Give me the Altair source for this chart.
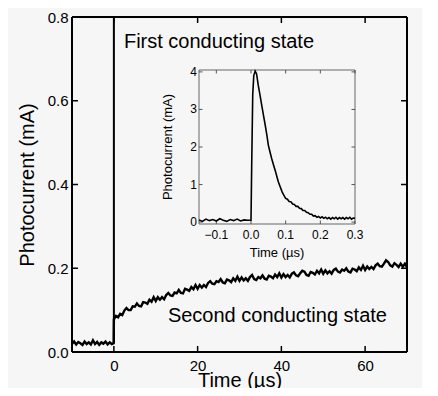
import altair as alt
import pandas as pd

FONT = "Liberation Sans"
BG = "#f6f6f6"

# ---------------- main trace (time in µs, current in mA) ----------------
pre_t = [-10.0, -9.5, -9.0, -8.5, -8.0, -7.5, -7.0, -6.5, -6.0, -5.5,
         -5.0, -4.5, -4.0, -3.5, -3.0, -2.5, -2.0, -1.5, -1.0, -0.5, -0.05]
pre_v = [0.019, 0.025, 0.018, 0.024, 0.021, 0.017, 0.025, 0.019, 0.023, 0.018,
         0.028, 0.019, 0.024, 0.017, 0.023, 0.020, 0.025, 0.018, 0.023, 0.019, 0.021]

post_t = [i * 0.5 for i in range(141)]   # 0 ... 70 µs sampling grid
post_v = [0.078, 0.086, 0.083, 0.091, 0.088, 0.099, 0.105, 0.100, 0.100, 0.109,
          0.108, 0.116, 0.110, 0.109, 0.119, 0.118, 0.115, 0.125, 0.120, 0.131,
          0.122, 0.131, 0.125, 0.131, 0.126, 0.136, 0.141, 0.135, 0.134, 0.142,
          0.140, 0.148, 0.141, 0.140, 0.151, 0.149, 0.146, 0.155, 0.150, 0.160,
          0.151, 0.160, 0.154, 0.160, 0.155, 0.165, 0.169, 0.163, 0.162, 0.169,
          0.167, 0.174, 0.166, 0.164, 0.173, 0.171, 0.167, 0.176, 0.170, 0.180,
          0.170, 0.178, 0.171, 0.176, 0.170, 0.179, 0.184, 0.174, 0.172, 0.179,
          0.176, 0.183, 0.175, 0.173, 0.182, 0.180, 0.176, 0.185, 0.179, 0.188,
          0.178, 0.186, 0.179, 0.184, 0.178, 0.187, 0.190, 0.183, 0.181, 0.188,
          0.194, 0.192, 0.184, 0.182, 0.191, 0.189, 0.185, 0.194, 0.188, 0.197,
          0.187, 0.195, 0.188, 0.193, 0.187, 0.196, 0.199, 0.192, 0.190, 0.197,
          0.194, 0.200, 0.192, 0.190, 0.199, 0.197, 0.193, 0.202, 0.196, 0.206,
          0.196, 0.204, 0.198, 0.203, 0.198, 0.207, 0.211, 0.205, 0.204, 0.211,
          0.219, 0.215, 0.207, 0.204, 0.212, 0.208, 0.203, 0.211, 0.204, 0.211,
          0.202]

# spike at t = 0: runs off the top of the main axes
spike_t = [0.0]
spike_lo = [0.021]
spike_hi = [0.8]

# ---------------- inset trace (time in µs, current in mA) ----------------
inset_t = [-0.15, -0.14, -0.13, -0.12, -0.11, -0.10, -0.09, -0.08, -0.07, -0.06,
           -0.05, -0.04, -0.03, -0.02, -0.01, 0.0, 0.002, 0.005, 0.008, 0.012,
           0.016, 0.021, 0.026, 0.031, 0.036, 0.041, 0.046, 0.050, 0.055, 0.060,
           0.065, 0.070, 0.075, 0.079, 0.085, 0.090, 0.095, 0.100, 0.105, 0.110,
           0.115, 0.120, 0.125, 0.130, 0.135, 0.140, 0.145, 0.150, 0.155, 0.160,
           0.165, 0.170, 0.175, 0.180, 0.185, 0.190, 0.195, 0.200, 0.205, 0.210,
           0.215, 0.220, 0.225, 0.230, 0.235, 0.240, 0.245, 0.250, 0.255, 0.260,
           0.265, 0.270, 0.275, 0.280, 0.285, 0.290, 0.295, 0.300]
inset_v = [0.06, 0.02, 0.08, 0.04, 0.07, 0.03, 0.09, 0.05, 0.02, 0.07,
           0.04, 0.08, 0.03, 0.06, 0.05, 0.05, 1.50, 3.40, 3.90, 4.02,
           3.95, 3.64, 3.38, 3.11, 2.84, 2.58, 2.30, 2.05, 1.86, 1.68,
           1.52, 1.37, 1.20, 1.07, 0.92, 0.80, 0.71, 0.63, 0.61, 0.55,
           0.54, 0.48, 0.47, 0.42, 0.42, 0.37, 0.36, 0.31, 0.31, 0.26,
           0.25, 0.21, 0.21, 0.16, 0.17, 0.13, 0.15, 0.11, 0.14, 0.10,
           0.13, 0.09, 0.12, 0.08, 0.12, 0.09, 0.13, 0.08, 0.12, 0.09,
           0.12, 0.08, 0.12, 0.09, 0.13, 0.08, 0.11, 0.10]

# ---------------- annotations ----------------
ann_t = [2.4, 12.9]
ann_v = [0.727, 0.072]
ann_text = ["First conducting state", "Second conducting state"]

# ---------------- ticks and tick labels ----------------
main_xticks = [0, 20, 40, 60]
main_yticks = [0.0, 0.2, 0.4, 0.6, 0.8]
inset_xticks = [-0.1, 0.0, 0.1, 0.2, 0.3]
inset_xlabels = ["\u22120.1", "0.0", "0.1", "0.2", "0.3"]
inset_yticks = [0, 1, 2, 3, 4]
inset_ylabels = ["0", "1", "2", "3", "4"]
inset_titles = ["Time (µs)", "Photocurrent (mA)"]

# ---------------- layout ----------------
W, H = 335, 335
XD, YD = [-10, 70], [0.0, 0.8]          # main axes domains
XI, YI = [-0.15, 0.3], [-0.05, 4.05]    # inset axes domains
IX0, IX1, IY0, IY1 = 127, 283, 53, 207  # inset box in plot pixels
TM, TI = 6, 3.5                         # tick lengths (px)


def px2x(p):  # plot pixel -> main x units
    return XD[0] + p / W * (XD[1] - XD[0])


def px2y(p):  # plot pixel (from top) -> main y units
    return YD[0] + (H - p) / H * (YD[1] - YD[0])


IXA, IXB, IYA, IYB = px2x(IX0), px2x(IX1), px2y(IY1), px2y(IY0)
SX = (IXB - IXA) / (XI[1] - XI[0])
SY = (IYB - IYA) / (YI[1] - YI[0])


def fx(t):  # inset time -> main x units
    return IXA + (t - XI[0]) * SX


def fy(v):  # inset current -> main y units
    return IYA + (v - YI[0]) * SY


dxm, dym = px2x(TM) - px2x(0), px2y(0) - px2y(TM)
dxi, dyi = px2x(TI) - px2x(0), px2y(0) - px2y(TI)

# frame and tick segments (x, x2, y, y2, colour, width)
seg = []
K, G = "black", "#555"
for a, b, c, d in [(XD[0], XD[1], YD[0], YD[0]), (XD[0], XD[1], YD[1], YD[1]),
                   (XD[0], XD[0], YD[0], YD[1]), (XD[1], XD[1], YD[0], YD[1])]:
    seg.append((a, b, c, d, K, 2.0))
for t in main_xticks:
    seg.append((t, t, YD[0], YD[0] + dym, K, 1.5))
    seg.append((t, t, YD[1], YD[1] - dym, K, 1.5))
for v in main_yticks:
    seg.append((XD[0], XD[0] + dxm, v, v, K, 1.5))
    seg.append((XD[1], XD[1] - dxm, v, v, K, 1.5))
for a, b, c, d in [(IXA, IXB, IYA, IYA), (IXA, IXB, IYB, IYB),
                   (IXA, IXA, IYA, IYB), (IXB, IXB, IYA, IYB)]:
    seg.append((a, b, c, d, "#666", 1.0))
for t in inset_xticks:
    seg.append((fx(t), fx(t), IYA, IYA + dyi, G, 1.0))
    seg.append((fx(t), fx(t), IYB, IYB - dyi, G, 1.0))
for v in inset_yticks:
    seg.append((IXA, IXA + dxi, fy(v), fy(v), G, 1.0))
    seg.append((IXB, IXB - dxi, fy(v), fy(v), G, 1.0))
df_seg = pd.DataFrame(seg, columns=["x", "x2", "y", "y2", "c", "w"])

# inset tick labels (centre/middle anchored)
lab = [(fx(t), px2y(IY1 + 11), s) for t, s in zip(inset_xticks, inset_xlabels)]
lab += [(px2x(IX0 - 5.5), fy(v), s) for v, s in zip(inset_yticks, inset_ylabels)]
df_lab = pd.DataFrame(lab, columns=["x", "y", "label"])

df_ititle = pd.DataFrame({
    "x": [(IXA + IXB) / 2, px2x(IX0 - 31)],
    "y": [px2y(IY1 + 29), (IYA + IYB) / 2],
    "a": [0, 270],
    "label": inset_titles})

df_main = pd.DataFrame({"t": pre_t + post_t, "v": pre_v + post_v})
df_spike = pd.DataFrame({"t": spike_t, "lo": spike_lo, "hi": spike_hi})
df_inset = pd.DataFrame({"t": inset_t, "v": inset_v})
df_ann = pd.DataFrame({"t": ann_t, "v": ann_v, "label": ann_text})

xm = alt.Scale(domain=XD, nice=False, zero=False)
ym = alt.Scale(domain=YD, nice=False, zero=False)

common = dict(domain=False, grid=False, ticks=False, tickSize=0,
              labelFlush=False, labelOverlap=False,
              labelFont=FONT, labelColor="black", titleFont=FONT,
              titleColor="black", titleFontWeight="normal",
              titleBaseline="alphabetic")
ax_m_bottom = alt.Axis(orient="bottom", values=main_xticks, format="d",
                       labelFontSize=15, labelPadding=6,
                       title="Time (µs)", titleFontSize=20,
                       titleX=W / 2, titleY=34, **common)
ax_m_left = alt.Axis(orient="left", values=main_yticks, format=".1f",
                     labelFontSize=15, labelPadding=4,
                     title="Photocurrent (mA)", titleFontSize=20,
                     titleX=-39, titleY=H / 2, **common)


def X(f):
    return alt.X(f, scale=xm, axis=None)


def Y(f):
    return alt.Y(f, scale=ym, axis=None)


main = alt.Chart(df_main).mark_line(color="black", strokeWidth=2.4).encode(
    x=alt.X("t:Q", scale=xm, axis=ax_m_bottom),
    y=alt.Y("v:Q", scale=ym, axis=ax_m_left))

spike = alt.Chart(df_spike).mark_rule(color="black", strokeWidth=2).encode(
    x=X("t:Q"), y=Y("lo:Q"), y2="hi:Q")

segs = alt.Chart(df_seg).mark_rule().encode(
    x=X("x:Q"), x2="x2:Q", y=Y("y:Q"), y2="y2:Q",
    color=alt.Color("c:N", scale=None),
    strokeWidth=alt.StrokeWidth("w:Q", scale=None))

inset = alt.Chart(df_inset).transform_calculate(
    X=f"{IXA} + (datum.t - ({XI[0]})) * {SX}",
    Y=f"{IYA} + (datum.v - ({YI[0]})) * {SY}").mark_line(
    color="black", strokeWidth=1.6).encode(x=X("X:Q"), y=Y("Y:Q"))

ann = alt.Chart(df_ann).mark_text(font=FONT, fontSize=20, color="black",
                                  align="left", baseline="alphabetic").encode(
    x=X("t:Q"), y=Y("v:Q"), text="label:N")

ilab = alt.Chart(df_lab).mark_text(font=FONT, fontSize=12, color="black",
                                   align="center", baseline="middle").encode(
    x=X("x:Q"), y=Y("y:Q"), text="label:N")

ititle = alt.Chart(df_ititle).mark_text(font=FONT, fontSize=13, color="black",
                                        align="center", baseline="middle").encode(
    x=X("x:Q"), y=Y("y:Q"), angle=alt.Angle("a:Q", scale=None), text="label:N")

chart = alt.layer(main, spike, segs, inset, ann, ilab, ititle).resolve_scale(
    x="independent", y="independent").resolve_axis(
    x="independent", y="independent").properties(
    width=W, height=H, background=BG,
    autosize=alt.AutoSizeParams(type="none"),
    padding={"left": 64, "top": 9, "right": 15, "bottom": 36})

chart.save("out.html", embed_options={"renderer": "svg", "actions": False})
